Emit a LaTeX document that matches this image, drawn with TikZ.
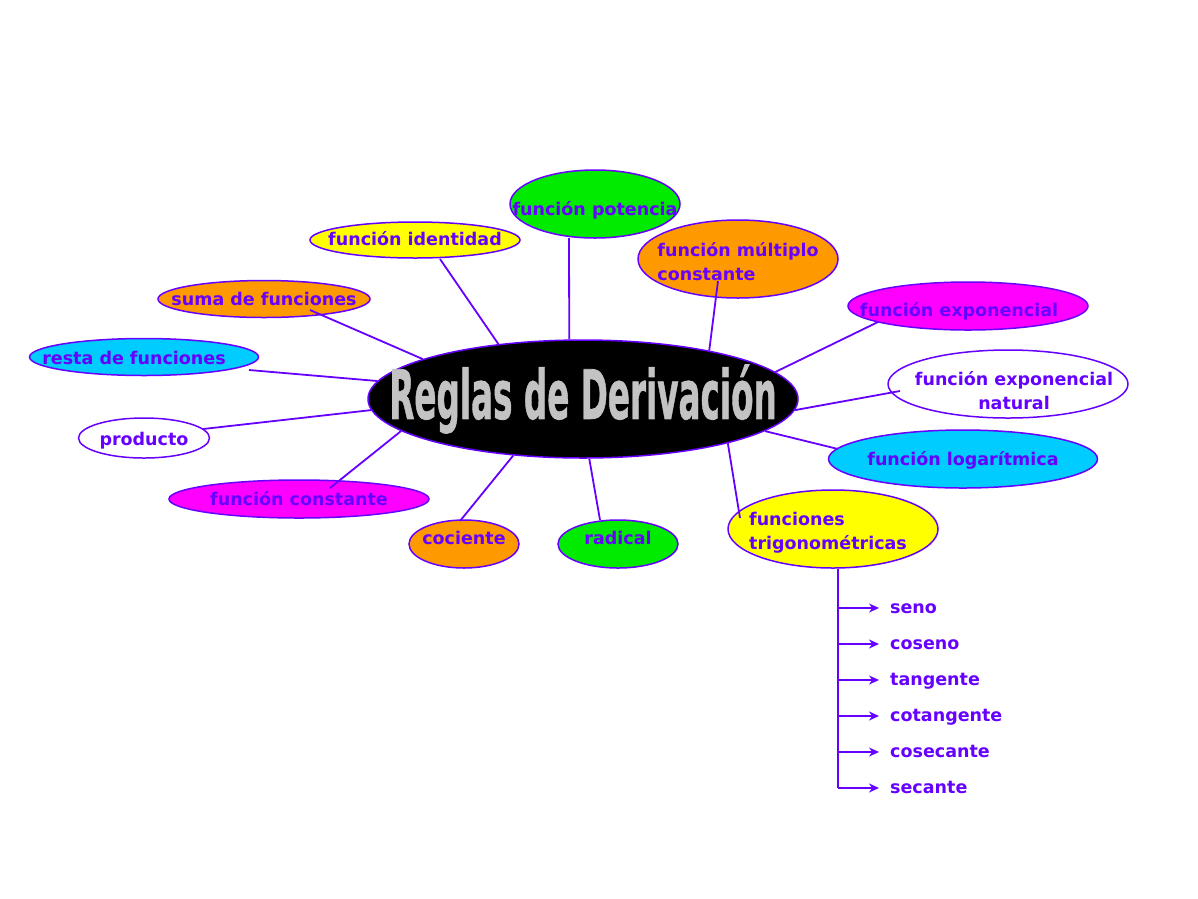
\documentclass[tikz,border=0pt]{standalone}
\usepackage{fontspec}
\setmainfont{DejaVu Sans}
\usetikzlibrary{shapes.geometric,arrows.meta}
\definecolor{ink}{RGB}{102,0,255}
\definecolor{cgreen}{RGB}{0,235,0}
\definecolor{cyellow}{RGB}{255,255,0}
\definecolor{corange}{RGB}{255,153,0}
\definecolor{cmagenta}{RGB}{255,0,255}
\definecolor{ccyan}{RGB}{0,204,255}
\definecolor{faceC}{RGB}{195,195,195}
\newcommand{\tworow}[2]{\begin{tabular}[t]{@{}#1@{}}#2\end{tabular}}
\newcommand{\txt}[2]{\makebox[0pt]{\raisebox{#1}[0pt][0pt]{#2}}}
\begin{document}
\begin{tikzpicture}[x=1pt,y=-1pt,
  bub/.style={ellipse,draw=ink,line width=1.5pt,inner sep=0pt,text=ink,
    font=\fontsize{17.5}{24}\selectfont\bfseries},
  link/.style={draw=ink,line width=1.8pt},
  arr/.style={link,-{Stealth[length=10pt,width=9pt]}},
  leaf/.style={anchor=west,inner sep=0pt,text height=10pt,text depth=0pt,text=ink,
    font=\fontsize{17.5}{20}\selectfont\bfseries}]
\useasboundingbox[fill=white] (0,0) rectangle (1198,898);

% central node
\node[ellipse,draw=ink,line width=1.5pt,fill=black,inner sep=0pt,
  minimum width=430pt,minimum height=118pt] (center) at (583,399)
  {\makebox[0pt]{\scalebox{0.48}[1]{\fontsize{68}{70}\selectfont\bfseries
    \addfontfeatures{FakeBold=1.2}\color{faceC}Reglas de Derivación}}};

% outer bubbles
\node[bub,fill=cgreen,minimum width=170pt,minimum height=68pt] (pot) at (595,204)
  {\txt{-11pt}{función potencia}};
\node[bub,fill=cyellow,minimum width=210pt,minimum height=36pt] (ident) at (415,240)
  {\txt{-5pt}{función identidad}};
\node[bub,fill=corange,minimum width=200pt,minimum height=78pt] (mult) at (738,259)
  {\txt{3pt}{\tworow{l}{función múltiplo\\constante}}};
\node[bub,fill=corange,minimum width=212pt,minimum height=37pt] (suma) at (264,299)
  {\txt{-6pt}{suma de funciones}};
\node[bub,fill=cmagenta,minimum width=240pt,minimum height=48pt] (expo) at (968,306)
  {\txt{-10pt}{función exponencial\hspace{18pt}}};
\node[bub,fill=ccyan,minimum width=229pt,minimum height=37pt] (resta) at (144,357)
  {\txt{-7pt}{resta de funciones\hspace{20pt}}};
\node[bub,fill=white,minimum width=240pt,minimum height=68pt] (expn) at (1008,384)
  {\txt{-1pt}{\hspace{12pt}\tworow{c}{función exponencial\\natural}}};
\node[bub,fill=white,minimum width=131pt,minimum height=40pt] (prod) at (144,438)
  {\txt{-7pt}{producto}};
\node[bub,fill=ccyan,minimum width=269pt,minimum height=58pt] (loga) at (963,459)
  {\txt{-6pt}{función logarítmica}};
\node[bub,fill=cmagenta,minimum width=260pt,minimum height=38pt] (const) at (299,499)
  {\txt{-6pt}{función constante}};
\node[bub,fill=corange,minimum width=110pt,minimum height=48pt] (coc) at (464,544)
  {\txt{0pt}{cociente}};
\node[bub,fill=cgreen,minimum width=120pt,minimum height=48pt] (rad) at (618,544)
  {\txt{0pt}{radical}};
\node[bub,fill=cyellow,minimum width=210pt,minimum height=78pt] (trig) at (833,529)
  {\txt{4pt}{\tworow{l}{funciones\\trigonométricas}\hspace{10pt}}};

% connectors to the centre
\draw[link] ([xshift=-26pt,yshift=-34pt]pot.center) -- (center.103);
\draw[link] ([xshift=25pt,yshift=-19pt]ident.center) -- (center.147);
\draw[link] ([xshift=-20pt,yshift=-22pt]mult.center) -- (center.21);
\draw[link] ([xshift=46pt,yshift=-11pt]suma.center) -- (center.166);
\draw[link] ([xshift=-90pt,yshift=-16pt]expo.center) -- (center.8.5);
\draw[link] ([xshift=105pt,yshift=-13pt]resta.center) -- (center.175);
\draw[link] ([xshift=-108pt,yshift=-7pt]expn.center) -- (center.-3);
\draw[link] ([xshift=59pt,yshift=9pt]prod.center) -- (center.183);
\draw[link] ([xshift=-125pt,yshift=10pt]loga.center) -- (center.-10.4);
\draw[link] ([xshift=31pt,yshift=11pt]const.center) -- (center.190.5);
\draw[link] ([xshift=-4pt,yshift=23pt]coc.center) -- (center.219);
\draw[link] ([xshift=-18pt,yshift=24pt]rad.center) -- (center.276.5);
\draw[link] ([xshift=-93pt,yshift=11pt]trig.center) -- (center.-17);

% trigonometric functions
\node[leaf] (seno) at (890,608) {seno};
\node[leaf] (coseno) at (890,644) {coseno};
\node[leaf] (tang) at (890,680) {tangente};
\node[leaf] (cotang) at (890,716) {cotangente};
\node[leaf] (cosec) at (890,752) {cosecante};
\node[leaf] (sec) at (890,788) {secante};
\coordinate (trunk) at ([xshift=5pt]trig.south);
\draw[link] (trunk) -- (trunk |- sec.west);
\foreach \n in {seno,coseno,tang,cotang,cosec,sec}
  \draw[arr] (trunk |- \n.west) -- ([xshift=-11pt]\n.west);
\end{tikzpicture}
\end{document}
